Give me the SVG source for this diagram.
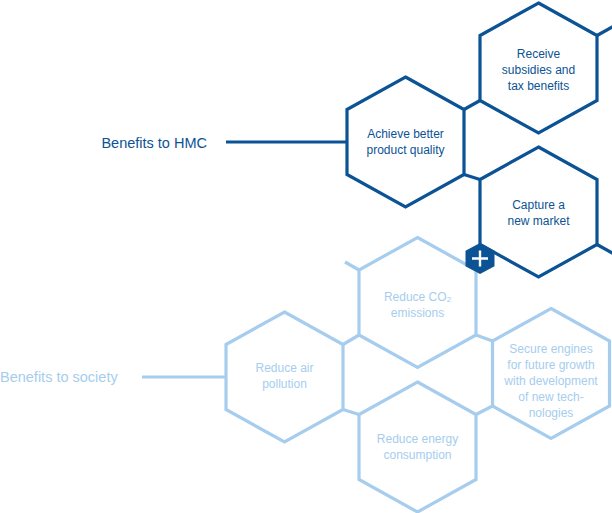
<svg xmlns="http://www.w3.org/2000/svg" xmlns:xlink="http://www.w3.org/1999/xlink" width="612" height="513" viewBox="0 0 612 513">
<style>
.dk{fill:#fff;stroke:#0b5394;stroke-width:3.2;stroke-linejoin:miter}
.lt{fill:#fff;stroke:#a6cdee;stroke-width:3.2;stroke-linejoin:miter}
.cdk{stroke:#0b5394;stroke-width:3.2;fill:none}
.clt{stroke:#a6cdee;stroke-width:3.2;fill:none}
text{font-family:"Liberation Sans",Arial,sans-serif;text-anchor:middle}
.tdk{fill:#0b5394;font-size:12px}
.tlt{fill:#a6cdee;font-size:12px}
.ldk{fill:#0b5394;font-size:14.5px}
.llt{fill:#a6cdee;font-size:14.5px}
</style>
<defs>
<polygon id="hex" points="0,-65 58.5,-32.5 58.5,32.5 0,65 -58.5,32.5 -58.5,-32.5"/>
</defs>
<rect width="612" height="513" fill="#fff"/>
<g id="connectors">
<line class="cdk" x1="226" y1="142" x2="347" y2="142"/>
<line class="cdk" x1="464" y1="109.5" x2="480" y2="100.5"/>
<line class="cdk" x1="464" y1="174.5" x2="480" y2="179.5"/>
<line class="cdk" x1="597" y1="35.5" x2="613" y2="26.5"/>
<line class="cdk" x1="597" y1="244.5" x2="613" y2="253.5"/>
<line class="clt" x1="142" y1="377" x2="226" y2="377"/>
<line class="clt" x1="359" y1="270" x2="345" y2="262"/>
<line class="clt" x1="343" y1="344.5" x2="359" y2="335"/>
<line class="clt" x1="343" y1="409.5" x2="359" y2="414.5"/>
<line class="clt" x1="476" y1="335" x2="492.5" y2="341"/>
<line class="clt" x1="476" y1="414.5" x2="492.5" y2="406"/>
</g>
<g id="label-hmc"><text class="ldk" x="207" y="147.5" style="text-anchor:end">Benefits to HMC</text></g>
<g id="label-society"><text class="llt" x="0" y="382" style="text-anchor:start">Benefits to society</text></g>
<g id="co2">
<use xlink:href="#hex" class="lt" x="417.5" y="302.5"/>
<text class="tlt" x="417.5" y="300.5">Reduce CO<tspan font-size="8" dy="1">2</tspan></text>
<text class="tlt" x="417.5" y="316.5">emissions</text>
</g>
<g id="air">
<use xlink:href="#hex" class="lt" x="284.5" y="377"/>
<text class="tlt" x="284.5" y="371.5">Reduce air</text>
<text class="tlt" x="284.5" y="388">pollution</text>
</g>
<g id="energy">
<use xlink:href="#hex" class="lt" x="417.5" y="447"/>
<text class="tlt" x="417.5" y="442.5">Reduce energy</text>
<text class="tlt" x="417.5" y="458.5">consumption</text>
</g>
<g id="secure">
<use xlink:href="#hex" class="lt" x="551" y="373.5"/>
<text class="tlt" x="551" y="352.5">Secure engines</text>
<text class="tlt" x="551" y="368.5">for future growth</text>
<text class="tlt" x="551" y="384.5">with development</text>
<text class="tlt" x="551" y="400.5">of new tech-</text>
<text class="tlt" x="551" y="416.5">nologies</text>
</g>
<g id="achieve">
<use xlink:href="#hex" class="dk" x="405.5" y="142"/>
<text class="tdk" x="405.5" y="137.5">Achieve better</text>
<text class="tdk" x="405.5" y="153.5">product quality</text>
</g>
<g id="receive">
<use xlink:href="#hex" class="dk" x="538.5" y="68"/>
<text class="tdk" x="538.5" y="57.5">Receive</text>
<text class="tdk" x="538.5" y="73.5">subsidies and</text>
<text class="tdk" x="538.5" y="89.5">tax benefits</text>
</g>
<g id="capture">
<use xlink:href="#hex" class="dk" x="538.5" y="212"/>
<text class="tdk" x="538.5" y="208.5">Capture a</text>
<text class="tdk" x="538.5" y="225">new market</text>
</g>
<g id="plus">
<polygon points="480,243 494.5,250.75 494.5,266.25 480,274 465.5,266.25 465.5,250.75" fill="#0b5394"/>
<path d="M472,258.5H488M480,250.5V266.5" stroke="#fff" stroke-width="2.4" fill="none"/>
</g>
</svg>
